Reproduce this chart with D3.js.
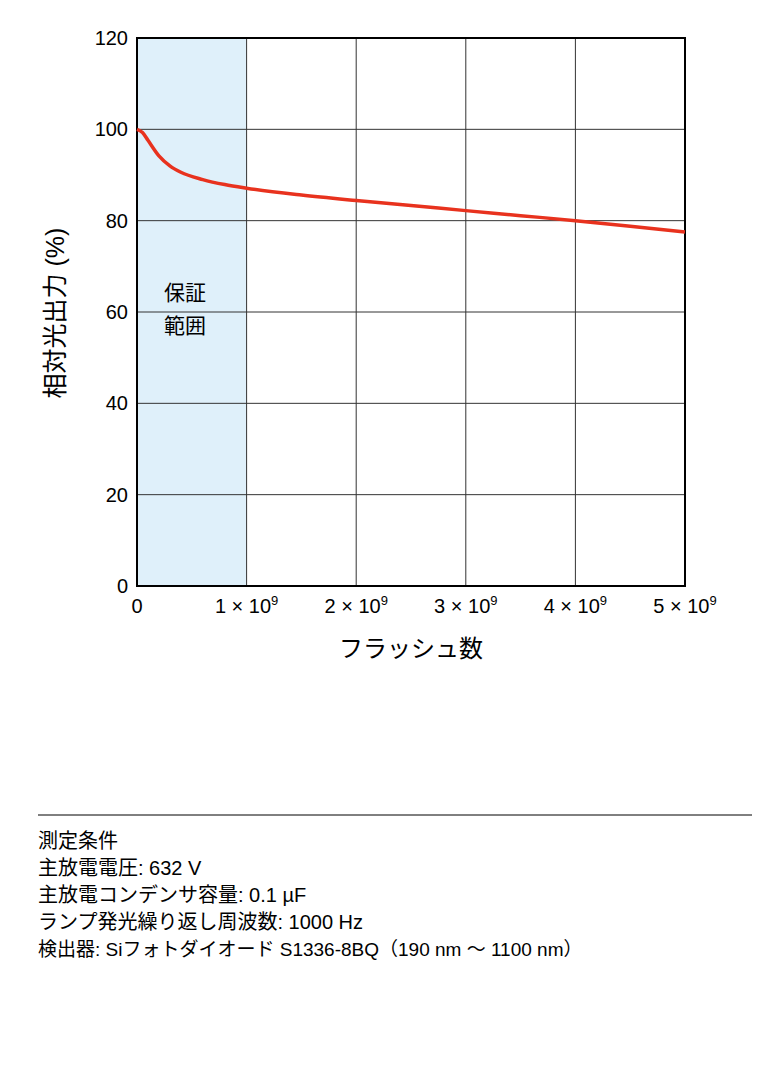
<!DOCTYPE html>
<html><head><meta charset="utf-8">
<script src="https://cdn.jsdelivr.net/npm/d3@7"></script>
<style>body{margin:0;background:#fff}text{font-family:"Liberation Sans","Noto Sans CJK JP",sans-serif}</style>
</head><body><svg id="c" width="768" height="1085"></svg>
<script>
const flashX = [0,0.05,0.1,0.2,0.3,0.4,0.6,0.8,1,1.5,2,2.5,3,3.5,4,4.5,5];
const relOut = [100,99.3,97.6,94.2,92,90.6,89,87.9,87.1,85.6,84.4,83.3,82.2,81.1,80,78.8,77.5];
const xTicks = [0,1,2,3,4,5];
const yTicks = [0,20,40,60,80,100,120];
const notes = ["測定条件","主放電電圧: 632 V","主放電コンデンサ容量: 0.1 µF","ランプ発光繰り返し周波数: 1000 Hz","検出器: Siフォトダイオード S1336-8BQ（190 nm ～ 1100 nm）"];

const svg = d3.select("#c");
const x = d3.scaleLinear().domain([0,5]).range([137,685]);
const y = d3.scaleLinear().domain([0,120]).range([586,38]);

svg.append("rect").attr("x",x(0)).attr("y",y(120)).attr("width",x(1)-x(0)).attr("height",y(0)-y(120)).attr("fill","#dff0fa");
const g = svg.append("g").attr("stroke","#333").attr("stroke-width",1);
xTicks.forEach(t=>g.append("line").attr("x1",x(t)).attr("x2",x(t)).attr("y1",y(0)).attr("y2",y(120)));
yTicks.forEach(t=>g.append("line").attr("x1",x(0)).attr("x2",x(5)).attr("y1",y(t)).attr("y2",y(t)));
svg.append("rect").attr("x",x(0)).attr("y",y(120)).attr("width",x(5)-x(0)).attr("height",y(0)-y(120)).attr("fill","none").attr("stroke","#000").attr("stroke-width",2);

svg.append("path").datum(flashX.map((d,i)=>[d,relOut[i]]))
  .attr("d",d3.line().x(d=>x(d[0])).y(d=>y(d[1])).curve(d3.curveMonotoneX))
  .attr("fill","none").attr("stroke","#e8321e").attr("stroke-width",3.5);

yTicks.forEach(t=>svg.append("text").attr("x",128).attr("y",y(t)+7).attr("text-anchor","end").attr("font-size",20).text(t));
xTicks.forEach(t=>{
  const tx = svg.append("text").attr("x",x(t)).attr("y",613).attr("text-anchor","middle").attr("font-size",20);
  if(t===0){tx.text("0");return;}
  tx.append("tspan").text(t+" × 10");
  tx.append("tspan").attr("font-size",13).attr("dy",-8).text("9");
});
svg.append("text").attr("x",411).attr("y",657).attr("text-anchor","middle").attr("font-size",24).text("フラッシュ数");
svg.append("text").attr("transform","translate(64,313) rotate(-90)").attr("text-anchor","middle").attr("font-size",25).text("相対光出力 (%)");
svg.append("text").attr("x",164).attr("y",300).attr("font-size",21).text("保証");
svg.append("text").attr("x",164).attr("y",333).attr("font-size",21).text("範囲");

svg.append("line").attr("x1",38).attr("x2",752).attr("y1",815).attr("y2",815).attr("stroke","#000").attr("stroke-width",1);
notes.forEach((n,i)=>svg.append("text").attr("x",38).attr("y",848+i*27).attr("font-size",i===4?19:20).text(n));
</script></body></html>
